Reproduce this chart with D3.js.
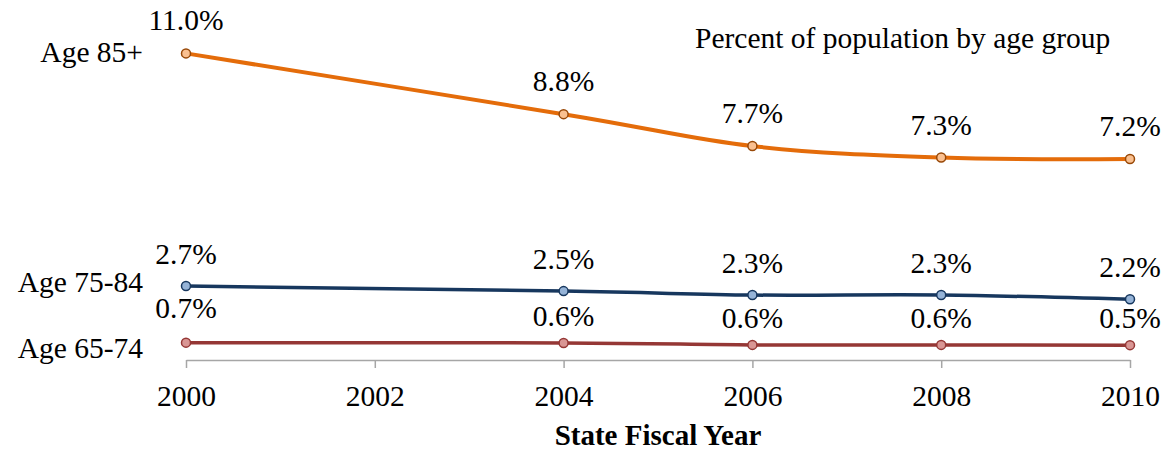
<!DOCTYPE html>
<html>
<head>
<meta charset="utf-8">
<script src="https://cdn.jsdelivr.net/npm/d3@7"></script>
<style>
  body { margin: 0; background: #fff; }
  svg { display: block; font-family: "Liberation Serif", "Times New Roman", serif; }
</style>
</head>
<body>
<svg width="1165" height="452"></svg>
<script>
// data
var years = [2000, 2004, 2006, 2008, 2010];
var tickYears = [2000, 2002, 2004, 2006, 2008, 2010];
var seriesNames = ["Age 85+", "Age 75-84", "Age 65-74"];
var age85 = [10.95, 8.78, 7.64, 7.23, 7.18];
var age75 = [2.64, 2.46, 2.32, 2.32, 2.17];
var age65 = [0.62, 0.61, 0.54, 0.54, 0.53];
var age85Labels = ["11.0%", "8.8%", "7.7%", "7.3%", "7.2%"];
var age75Labels = ["2.7%", "2.5%", "2.3%", "2.3%", "2.2%"];
var age65Labels = ["0.7%", "0.6%", "0.6%", "0.6%", "0.5%"];

var svg = d3.select("svg"),
    width = +svg.attr("width"),
    height = +svg.attr("height");

var x = d3.scaleLinear().domain([2000, 2010]).range([186, 1130]);
var y = d3.scaleLinear().domain([0, 11]).range([360, 52]);

var series = [
  { name: seriesNames[0], values: age85, labels: age85Labels, line: "#e46c0a", fill: "#fac090", stroke: "#984807", width: 4, labelDy: 9, valueDy: -23 },
  { name: seriesNames[1], values: age75, labels: age75Labels, line: "#17375e", fill: "#95b3d7", stroke: "#17375e", width: 3.5, labelDy: 6, valueDy: -22 },
  { name: seriesNames[2], values: age65, labels: age65Labels, line: "#953735", fill: "#d99694", stroke: "#953735", width: 3.5, labelDy: 15, valueDy: -17 }
];

// x axis
var xAxis = svg.append("g")
    .attr("transform", "translate(0," + y(0) + ")")
    .call(d3.axisBottom(x).tickValues(tickYears).tickFormat(d3.format("d")).tickSize(8).tickSizeOuter(0).tickPadding(17));
xAxis.select(".domain").attr("stroke", "#a6a6a6").attr("stroke-width", 1.5);
xAxis.selectAll(".tick line").attr("stroke", "#a6a6a6").attr("stroke-width", 1.5);
xAxis.selectAll(".tick text")
    .attr("fill", "#000")
    .style("font-family", "Liberation Serif, Times New Roman, serif")
    .style("font-size", "29.5px");

svg.append("text")
    .attr("x", (x.range()[0] + x.range()[1]) / 2)
    .attr("y", 445)
    .attr("text-anchor", "middle")
    .style("font-size", "29px")
    .style("font-weight", "bold")
    .text("State Fiscal Year");

svg.append("text")
    .attr("x", 695)
    .attr("y", 48)
    .style("font-size", "29.5px")
    .text("Percent of population by age group");

var line = d3.line()
    .x(function(d, i) { return x(years[i]); })
    .y(function(d) { return y(d); })
    .curve(d3.curveCardinal);

var g = svg.selectAll(".series")
    .data(series)
    .enter().append("g")
    .attr("class", "series");

g.append("path")
    .attr("d", function(s) { return line(s.values); })
    .attr("fill", "none")
    .attr("stroke", function(s) { return s.line; })
    .attr("stroke-width", function(s) { return s.width; });

g.selectAll("circle")
    .data(function(s) { return s.values.map(function(v, i) { return { v: v, i: i, s: s }; }); })
    .enter().append("circle")
    .attr("cx", function(d) { return x(years[d.i]); })
    .attr("cy", function(d) { return y(d.v); })
    .attr("r", 4.5)
    .attr("fill", function(d) { return d.s.fill; })
    .attr("stroke", function(d) { return d.s.stroke; })
    .attr("stroke-width", 1.5);

// value labels (first red label sits a bit higher in the original)
g.selectAll(".val")
    .data(function(s) { return s.values.map(function(v, i) { return { v: v, i: i, s: s }; }); })
    .enter().append("text")
    .attr("class", "val")
    .attr("x", function(d) { return x(years[d.i]); })
    .attr("y", function(d) {
      var dy = d.s.valueDy;
      if (d.s === series[2] && d.i === 0) dy = -25;
      return y(d.v) + dy;
    })
    .attr("text-anchor", "middle")
    .style("font-size", "29.5px")
    .text(function(d) { return d.s.labels[d.i]; });

// series names on the left
g.append("text")
    .attr("x", 143)
    .attr("y", function(s) { return y(s.values[0]) + s.labelDy; })
    .attr("text-anchor", "end")
    .style("font-size", "29.5px")
    .text(function(s) { return s.name; });
</script>
</body>
</html>
